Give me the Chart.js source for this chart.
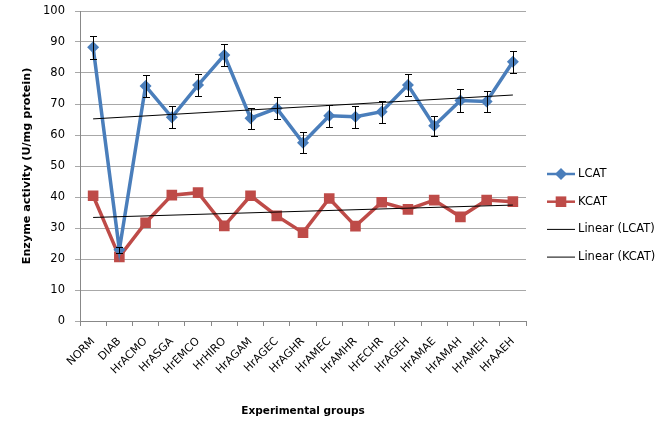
<!DOCTYPE html>
<html>
<head>
<meta charset="utf-8">
<title>Enzyme activity</title>
<script src="https://cdn.jsdelivr.net/npm/chart.js@4.4.0/dist/chart.umd.min.js"></script>
<style>
  html, body { margin: 0; padding: 0; background: #fff; }
  #wrap { width: 669px; height: 422px; position: relative; }
</style>
</head>
<body>
<div id="wrap"><canvas id="enzymeChart"></canvas></div>
<script>
const groups = ["NORM", "DIAB", "HrACMO", "HrASGA", "HrEMCO", "HrHIRO", "HrAGAM", "HrAGEC", "HrAGHR",
  "HrAMEC", "HrAMHR", "HrECHR", "HrAGEH", "HrAMAE", "HrAMAH", "HrAMEH", "HrAAEH"];
const lcat = [88.3, 23.0, 75.8, 65.7, 76.1, 85.8, 65.4, 68.6, 57.5, 66.2, 65.9, 67.5, 76.1, 63.0, 71.1, 70.8, 83.6];
const lcatErr = [3.7, 1.0, 3.5, 3.5, 3.5, 3.4, 3.4, 3.5, 3.4, 3.5, 3.5, 3.5, 3.5, 3.2, 3.6, 3.4, 3.5];
const kcat = [40.4, 20.7, 31.7, 40.6, 41.4, 30.7, 40.4, 33.9, 28.5, 39.5, 30.6, 38.3, 36.0, 39.0, 33.6, 39.0, 38.5];
// trend line end values at the first and last group
const lcatTrend = [65.2, 72.9];
const kcatTrend = [33.4, 37.4];

const FONT = "'DejaVu Sans', sans-serif";
const BLUE = "#4a7ebb";
const RED = "#be4b48";

function trendPoints(ends) {
  return [{ x: groups[0], y: ends[0] }, { x: groups[groups.length - 1], y: ends[1] }];
}

// vertical error bars on the LCAT series
const errorBars = {
  id: "errorBars",
  afterDatasetsDraw(chart) {
    const { ctx, scales: { x, y } } = chart;
    ctx.save();
    ctx.strokeStyle = "#000";
    ctx.lineWidth = 1;
    lcat.forEach((v, i) => {
      const px = Math.round(x.getPixelForValue(i)) + 0.5;
      const top = Math.round(y.getPixelForValue(v + lcatErr[i])) + 0.5;
      const bot = Math.round(y.getPixelForValue(v - lcatErr[i])) + 0.5;
      ctx.beginPath();
      ctx.moveTo(px, top); ctx.lineTo(px, bot);
      ctx.moveTo(px - 3.5, top); ctx.lineTo(px + 3.5, top);
      ctx.moveTo(px - 3.5, bot); ctx.lineTo(px + 3.5, bot);
      ctx.stroke();
    });
    ctx.restore();
  }
};

// legend on the right: short line with the marker in its middle
const sideLegend = {
  id: "sideLegend",
  afterDraw(chart) {
    const { ctx, chartArea } = chart;
    const x0 = chartArea.right + 21;
    const x1 = x0 + 28;
    ctx.save();
    ctx.font = "11.5px " + FONT;
    ctx.textBaseline = "middle";
    chart.data.datasets.forEach((ds, i) => {
      const yy = 174 + i * 27.7;
      ctx.strokeStyle = ds.borderColor;
      ctx.lineWidth = ds.legendWidth;
      ctx.beginPath();
      ctx.moveTo(x0, yy); ctx.lineTo(x1, yy);
      ctx.stroke();
      if (ds.pointRadius > 0) {
        ctx.fillStyle = ds.pointBackgroundColor;
        Chart.helpers.drawPoint(ctx, {
          pointStyle: ds.pointStyle,
          radius: ds.pointRadius,
          borderWidth: 0
        }, (x0 + x1) / 2, yy);
      }
      ctx.fillStyle = "#000";
      ctx.fillText(ds.label, x1 + 3, yy);
    });
    ctx.restore();
  }
};

new Chart(document.getElementById("enzymeChart"), {
  type: "line",
  data: {
    labels: groups,
    datasets: [
      {
        label: "LCAT", data: lcat, order: 1,
        borderColor: BLUE, borderWidth: 3.5, legendWidth: 2.5,
        pointStyle: "rectRot", pointRadius: 6, pointBackgroundColor: BLUE,
        pointBorderWidth: 0, pointHoverRadius: 6
      },
      {
        label: "KCAT", data: kcat, order: 2,
        borderColor: RED, borderWidth: 3.5, legendWidth: 2.5,
        pointStyle: "rect", pointRadius: 7.5, pointBackgroundColor: RED,
        pointBorderWidth: 0, pointHoverRadius: 7.5
      },
      {
        label: "Linear (LCAT)", data: trendPoints(lcatTrend), order: 0,
        borderColor: "#000", borderWidth: 1, legendWidth: 1, pointRadius: 0
      },
      {
        label: "Linear (KCAT)", data: trendPoints(kcatTrend), order: 0,
        borderColor: "#000", borderWidth: 1, legendWidth: 1, pointRadius: 0
      }
    ]
  },
  options: {
    responsive: true,
    maintainAspectRatio: false,
    animation: false,
    events: [],
    layout: { padding: { top: 11, right: 143, left: 0, bottom: 0 } },
    plugins: {
      legend: { display: false },
      tooltip: { enabled: false }
    },
    scales: {
      x: {
        offset: true,
        grid: { display: true, offset: true, drawOnChartArea: false, tickLength: 5, color: "#888" },
        border: { color: "#888" },
        ticks: {
          autoSkip: false, minRotation: 45, maxRotation: 45, padding: 9,
          color: "#000", font: { family: FONT, size: 11 }
        },
        title: {
          display: true, text: "Experimental groups", color: "#000",
          font: { family: FONT, size: 10.5, weight: "bold" }, padding: { top: 14, bottom: 4 }
        },
        afterFit(scale) { scale.height = 101; scale.paddingLeft = 0; }
      },
      y: {
        min: 0, max: 100,
        grid: { color: "#a8a8a8", tickLength: 5 },
        border: { color: "#888" },
        ticks: { stepSize: 10, padding: 10, color: "#000", font: { family: FONT, size: 11.5 } },
        title: {
          display: true, text: "Enzyme activity (U/mg protein)", color: "#000",
          font: { family: FONT, size: 11.2, weight: "bold" }, padding: { top: 20, bottom: 0 }
        },
        afterFit(scale) { scale.width = 80; scale.paddingTop = 0; scale.paddingBottom = 0; }
      }
    }
  },
  plugins: [errorBars, sideLegend]
});
</script>
</body>
</html>
